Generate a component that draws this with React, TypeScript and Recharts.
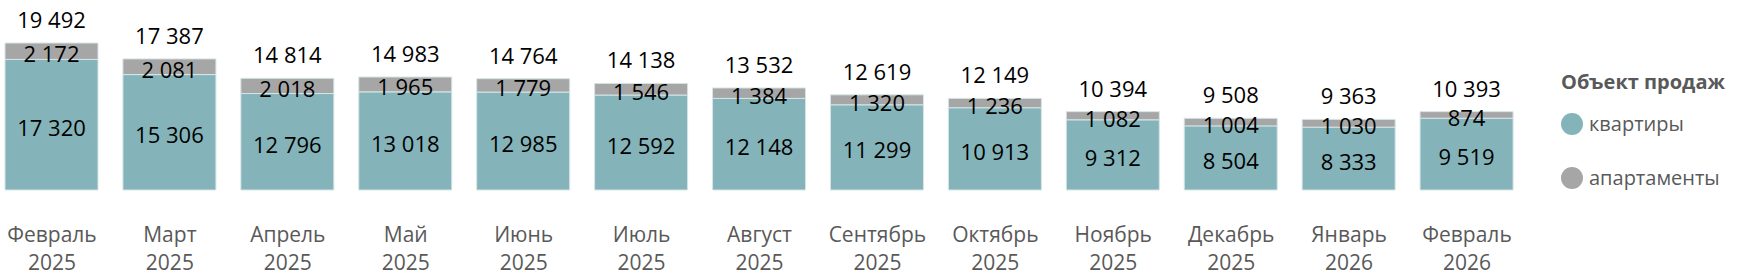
import { BarChart, Bar, XAxis, YAxis, LabelList } from "recharts";

const months = [
  "Февраль", "Март", "Апрель", "Май", "Июнь", "Июль", "Август",
  "Сентябрь", "Октябрь", "Ноябрь", "Декабрь", "Январь", "Февраль",
];
const years = [
  "2025", "2025", "2025", "2025", "2025", "2025", "2025",
  "2025", "2025", "2025", "2025", "2026", "2026",
];
const flats = [17320, 15306, 12796, 13018, 12985, 12592, 12148, 11299, 10913, 9312, 8504, 8333, 9519];
const apartments = [2172, 2081, 2018, 1965, 1779, 1546, 1384, 1320, 1236, 1082, 1004, 1030, 874];

const data = months.map((m, i) => ({
  key: `${m}-${years[i]}-${i}`,
  month: m,
  year: years[i],
  flats: flats[i],
  apartments: apartments[i],
  total: flats[i] + apartments[i],
}));

const TEAL = "#84B4B9";
const GREY = "#A6A6A6";
const FONT = "'Open Sans', sans-serif";

const fmt = (v: number) => String(v).replace(/\B(?=(\d{3})+(?!\d))/g, " ");

const CenterLabel = (props: any) => {
  const { x, y, width, height, value } = props;
  return (
    <text
      x={x + width / 2}
      y={y + height / 2 + 2}
      textAnchor="middle"
      dominantBaseline="central"
      fontFamily={FONT}
      fontSize={22}
      fill="#000"
    >
      {fmt(value)}
    </text>
  );
};

const TotalLabel = (props: any) => {
  const { x, y, width, index } = props;
  return (
    <text
      x={x + width / 2}
      y={y - 24}
      textAnchor="middle"
      dominantBaseline="central"
      fontFamily={FONT}
      fontSize={22}
      fill="#000"
    >
      {fmt(data[index].total)}
    </text>
  );
};

const MonthTick = (props: any) => {
  const { x, y, index } = props;
  const d = data[index];
  return (
    <g>
      <text x={x} y={y + 42} textAnchor="middle" dominantBaseline="central" fontFamily={FONT} fontSize={21} fill="#595959">
        {d.month}
      </text>
      <text x={x} y={y + 70} textAnchor="middle" dominantBaseline="central" fontFamily={FONT} fontSize={21} fill="#595959">
        {d.year}
      </text>
    </g>
  );
};

const LegendBox = () => (
  <div style={{ position: "absolute", left: 1561, top: 68, fontFamily: FONT, color: "#595959", whiteSpace: "nowrap" }}>
    <div style={{ fontWeight: 700, fontSize: 20, lineHeight: "28px" }}>Объект продаж</div>
    {[
      { name: "квартиры", color: TEAL },
      { name: "апартаменты", color: GREY },
    ].map((it, i) => (
      <div key={it.name} style={{ display: "flex", alignItems: "center", marginTop: i === 0 ? 14 : 26, marginLeft: 0 }}>
        <span style={{ width: 22, height: 22, borderRadius: 11, background: it.color, display: "inline-block", marginRight: 6 }} />
        <span style={{ fontSize: 20, lineHeight: "28px" }}>{it.name}</span>
      </div>
    ))}
  </div>
);

export default function App() {
  return (
    <div style={{ position: "absolute", left: 0, top: 0, width: 1742, height: 275, overflow: "hidden" }}>
      <div style={{ position: "absolute", left: -7.45, top: 0 }}>
        <BarChart
          width={1750}
          height={275}
          data={data}
          margin={{ top: 39.2, right: 217, bottom: 0, left: 0 }}
        >
          <XAxis dataKey="key" axisLine={false} tickLine={false} tickSize={0} height={85} interval={0} tick={<MonthTick />} />
          <YAxis hide domain={[0, 20000]} />
          <Bar dataKey="flats" name="квартиры" stackId="a" fill={TEAL} stroke="#d6e5e7" strokeWidth={1} barSize={93} isAnimationActive={false}>
            <LabelList dataKey="flats" content={<CenterLabel />} />
          </Bar>
          <Bar dataKey="apartments" name="апартаменты" stackId="a" fill={GREY} stroke="#d6e5e7" strokeWidth={1} barSize={93} isAnimationActive={false}>
            <LabelList dataKey="apartments" content={<CenterLabel />} />
            <LabelList dataKey="total" content={<TotalLabel />} />
          </Bar>
        </BarChart>
      </div>
      <LegendBox />
    </div>
  );
}
